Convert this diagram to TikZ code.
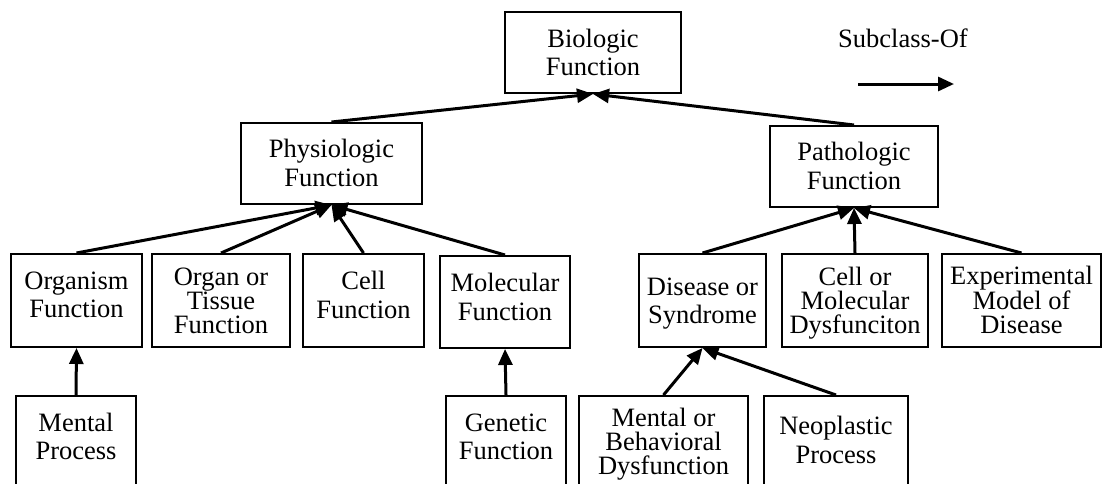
\documentclass[tikz,border=0pt]{standalone}
\usepackage{fontspec}
\setmainfont{Liberation Serif}
\usetikzlibrary{arrows.meta}
\tikzset{
  box/.style={draw, line width=2pt, inner sep=0pt},
  two/.style={inner sep=0pt, align=center, font=\fontsize{26.5}{28.5}\selectfont},
  three/.style={inner sep=0pt, align=center, font=\fontsize{26.5}{24}\selectfont},
  sub/.style={-{Triangle[length=16pt,width=14pt]}, line width=3pt},
}
\begin{document}
\begin{tikzpicture}[x=1pt,y=-1pt]
\useasboundingbox (0,0) rectangle (1103,483);
\clip (0,0) rectangle (1103,483);
% boxes
\node[box, minimum width=176pt, minimum height=81pt] (bio) at (593,52.5) {};
\node[box, minimum width=181pt, minimum height=81pt] (phys) at (331.5,163.5) {};
\node[box, minimum width=168pt, minimum height=81pt] (path) at (854,166.5) {};
\node[box, minimum width=131pt, minimum height=93pt] (org) at (76.5,300.5) {};
\node[box, minimum width=138pt, minimum height=93pt] (organ) at (221,300.5) {};
\node[box, minimum width=121pt, minimum height=93pt] (cell) at (363.5,300.5) {};
\node[box, minimum width=130pt, minimum height=92pt] (mol) at (505,302) {};
\node[box, minimum width=127pt, minimum height=93pt] (dis) at (702.5,300.5) {};
\node[box, minimum width=146pt, minimum height=93pt] (cellmol) at (855,300.5) {};
\node[box, minimum width=159pt, minimum height=93pt] (exp) at (1021.5,300.5) {};
\node[box, minimum width=120pt, minimum height=93pt] (ment) at (76,442.5) {};
\node[box, minimum width=120pt, minimum height=93pt] (gen) at (506,442.5) {};
\node[box, minimum width=169pt, minimum height=93pt] (mentor) at (663.5,442.5) {};
\node[box, minimum width=144pt, minimum height=93pt] (neo) at (836,442.5) {};
% texts
\node[two] (bioT) at (593,52.5) {Biologic\\Function};
\node[two] (physT) at (331.5,163) {Physiologic\\Function};
\node[two] (pathT) at (854,166) {Pathologic\\Function};
\node[two] (orgT) at (76.5,295) {Organism\\Function};
\node[three] (organT) at (221,300.5) {Organ or\\Tissue\\Function};
\node[two] (cellT) at (363.5,295) {Cell\\Function};
\node[two] (molT) at (505,297) {Molecular\\Function};
\node[two] (disT) at (702.5,303.4) {Disease or\\Syndrome};
\node[three] (cellmolT) at (855,303) {Cell or\\Molecular\\Dysfunciton};
\node[three] (expT) at (1021.5,300) {Experimental\\Model of\\Disease};
\node[two] (mentT) at (76,436.5) {Mental\\Process};
\node[two] (genT) at (506,437) {Genetic\\Function};
\node[three] (mentorT) at (663.5,444.4) {Mental or\\Behavioral\\Dysfunction};
\node[two] (neoT) at (836,440) {Neoplastic\\Process};
% legend
\node[two] (legT) at (903,38) {Subclass-Of};
\coordinate (legA) at (858,84);
\coordinate (legB) at (954,84);
\draw[sub] (legA) -- (legB);
% connectors
\draw[sub] (phys.north) -- (bio.south);
\draw[sub] (path.north) -- (bio.south);
\draw[sub] (org.north) -- (phys.south);
\draw[sub] (organ.north) -- (phys.south);
\draw[sub] (cell.north) -- (phys.south);
\draw[sub] (mol.north) -- (phys.south);
\draw[sub] (dis.north) -- (path.south);
\draw[sub] (cellmol.north) -- (path.south);
\draw[sub] (exp.north) -- (path.south);
\draw[sub] (ment.north) -- (org.south);
\draw[sub] (gen.north) -- (mol.south);
\draw[sub] (mentor.north) -- (dis.south);
\draw[sub] (neo.north) -- (dis.south);
\end{tikzpicture}
\end{document}
